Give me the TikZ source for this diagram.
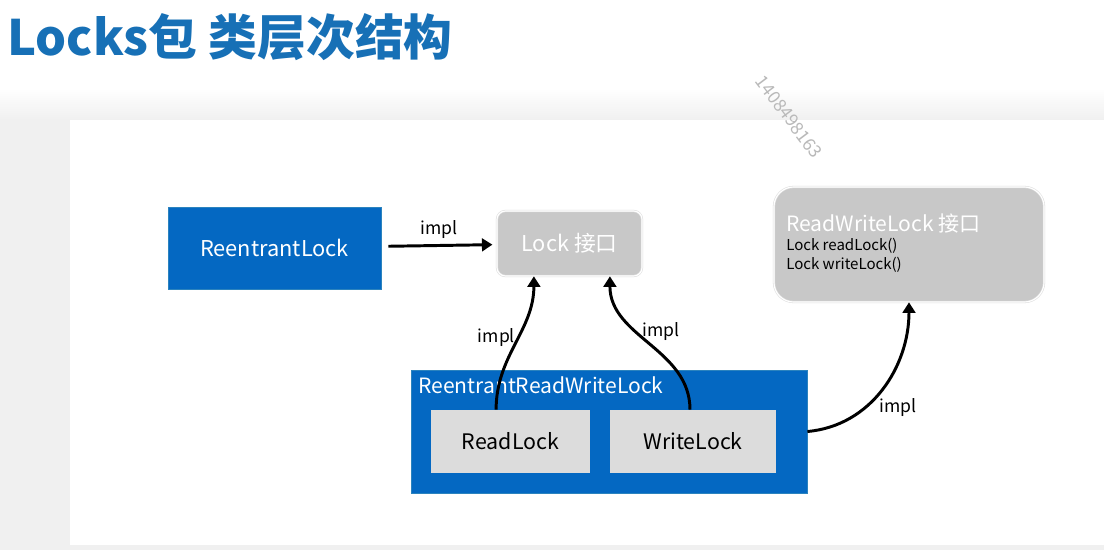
\documentclass[tikz,border=0pt]{standalone}
\usepackage{fontspec}
\setmainfont{Noto Sans CJK SC}
\usetikzlibrary{arrows.meta,positioning}
\definecolor{lkblue}{HTML}{0468C2}
\definecolor{lkgray}{HTML}{C8C8C8}
\definecolor{lklight}{HTML}{DCDCDC}
\definecolor{lktitle}{HTML}{1770B6}
\definecolor{bggray}{HTML}{F0F0F0}
\newcommand{\fs}[1]{\fontsize{#1}{#1}\selectfont}

\begin{document}
\begin{tikzpicture}[x=0.025cm, y=-0.025cm,
    bluebox/.style={fill=lkblue, draw=cyan!35!lkblue, line width=0.5pt, text=white, font=\fs{15.5}, inner sep=0pt},
    greybox/.style={fill=lkgray, draw=gray!25, double=white, double distance=0.8pt, rounded corners=6pt, text=white, font=\fs{15.5}, inner sep=0pt},
    innerbox/.style={fill=lklight, font=\fs{15.2}, inner sep=0pt},
    impl/.style={line width=2.1pt, -{Triangle[length=7.5pt,width=9pt]}},
    lbl/.style={font=\fs{12.5}, inner sep=1pt}]
  \useasboundingbox (0,0) rectangle (1104,550);
  % background and slide panel
  \fill[bggray] (0,0) rectangle (1104,550);
  \fill[white] (0,0) rectangle (1104,88);
  \shade[top color=white, bottom color=bggray] (0,88) rectangle (1104,120);
  \fill[white] (70,120) rectangle (1104,545);
  \node[anchor=base west, text=lktitle, font=\fs{34.7}\bfseries, inner sep=0pt] (T) at (7,56) {Locks包 类层次结构};
  \node[rotate=-53, text=gray!55, font=\fs{12.5}, inner sep=0pt] (W) at (789,117) {1408498163};
  % classes
  \node[bluebox, minimum width=5.325cm, minimum height=2.05cm] (RL) at (274.5,248) {ReentrantLock};
  \node[greybox, minimum width=3.625cm, minimum height=1.625cm] (LK) at (569.5,243.5) {Lock 接口};
  \node[greybox, rounded corners=14pt, minimum width=6.75cm, minimum height=2.875cm] (RWL) at (909,244.5) {};
  \node[anchor=base west, text=white, font=\fs{15}, inner sep=0pt] (RWLt) at (786,232) {ReadWriteLock 接口};
  \node[anchor=base west, font=\fs{10.7}, inner sep=0pt] (RWLr) at (786,251) {Lock readLock()};
  \node[anchor=base west, font=\fs{10.7}, inner sep=0pt] (RWLw) at (786,270) {Lock writeLock()};
  \node[bluebox, minimum width=9.9cm, minimum height=3.075cm] (RRW) at (609,431.5) {};
  \node[anchor=base west, text=white, font=\fs{15}, inner sep=0pt] (RRWt) at (418,393) {ReentrantReadWriteLock};
  \node[innerbox, minimum width=3.975cm, minimum height=1.575cm] (RdL) at (510.5,441.5) {ReadLock};
  \node[innerbox, minimum width=4.15cm, minimum height=1.575cm] (WrL) at (693,441.5) {WriteLock};
  % impl arrows
  \draw[impl, shorten <=5pt, shorten >=3pt] (RL) -- node[lbl, above=3pt] (I1) {impl} (LK);
  \draw[impl] ([xshift=-0.36cm]RdL.north) to[out=90, in=-90] node[lbl, left=0pt, pos=0.55] (I2) {impl} ([xshift=-0.89cm]LK.south);
  \draw[impl] ([xshift=-0.075cm]WrL.north) to[out=90, in=-90] node[lbl, right=1pt, pos=0.6] (I3) {impl} ([xshift=1.01cm]LK.south);
  \draw[impl] (RRW.east) to[out=5, in=-90] node[lbl, below right=0pt and 0pt, pos=0.45] (I4) {impl} (RWL.south);
\end{tikzpicture}
\end{document}
